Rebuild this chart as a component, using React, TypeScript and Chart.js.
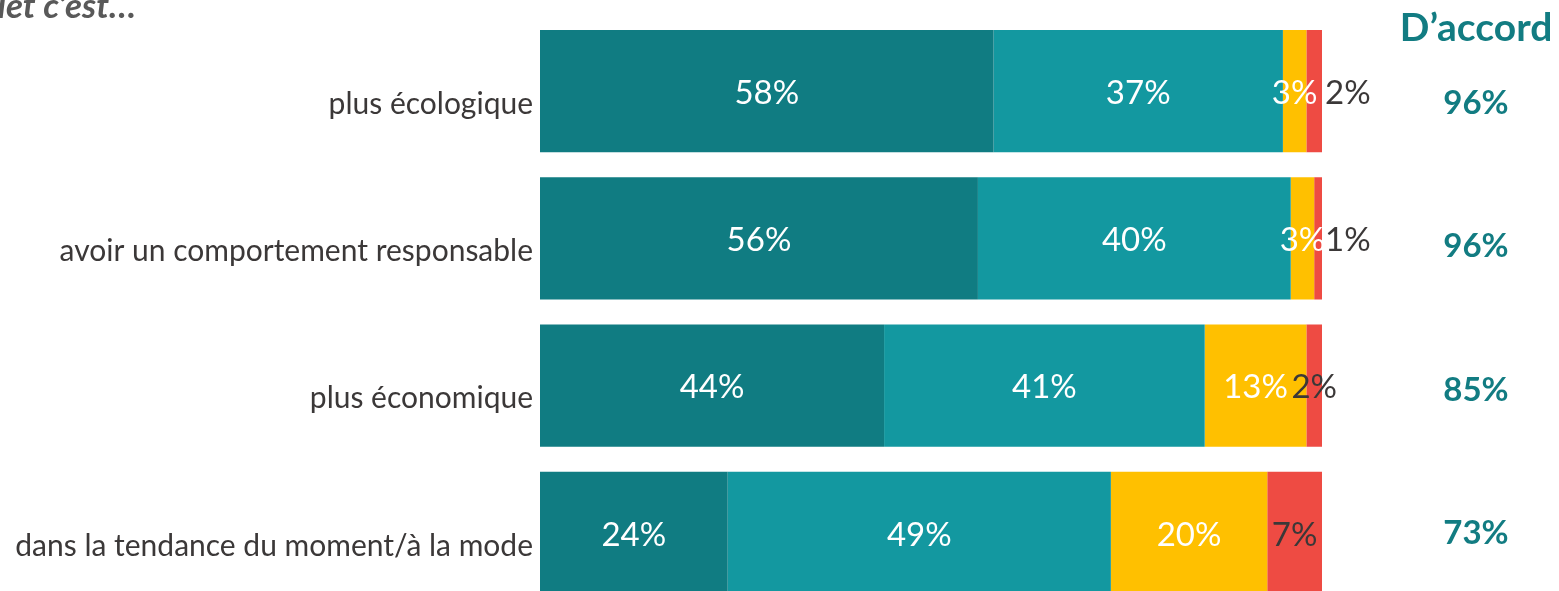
import React, { useEffect, useRef } from "react";
import { Chart, registerables } from "chart.js";

Chart.register(...registerables);

const categories = [
  "plus écologique",
  "avoir un comportement responsable",
  "plus économique",
  "dans la tendance du moment/à la mode",
];
const toutAFait = [58, 56, 44, 24];
const plutot = [37, 40, 41, 49];
const plutotPas = [3, 3, 13, 20];
const pasDuTout = [2, 1, 2, 7];
const accordTotals = ["96%", "96%", "85%", "73%"];
const accordHeader = "D’accord";
const titleText = "uet c’est…";

const seriesColors = ["#107C82", "#1398A0", "#FFC000", "#EE4B43"];
const labelColors = ["#FFFFFF", "#FFFFFF", "#FFFFFF", "#3B3838"];
const TEAL = "#127C82";
const TEXT = "#3B3838";
const FONT = "Lato, 'Open Sans', sans-serif";

const overlayPlugin = {
  id: "overlay",
  afterDatasetsDraw(chart: any) {
    const ctx = chart.ctx;
    const area = chart.chartArea;
    ctx.save();
    ctx.textBaseline = "middle";
    ctx.font = `33px ${FONT}`;
    const n = chart.data.datasets.length;
    const count = chart.data.labels.length;
    for (let j = 0; j < count; j++) {
      let prevRight = -Infinity;
      for (let i = 0; i < n; i++) {
        const meta = chart.getDatasetMeta(i);
        const el: any = meta.data[j];
        const v = chart.data.datasets[i].data[j];
        const txt = `${v}%`;
        const w = ctx.measureText(txt).width;
        let cx = (el.x + el.base) / 2;
        if (i === n - 1 && cx - w / 2 < prevRight - 2) {
          cx = Math.max(el.x, el.base) + 3 + w / 2;
        }
        ctx.fillStyle = labelColors[i];
        ctx.textAlign = "center";
        ctx.fillText(txt, cx, el.y + 2);
        prevRight = cx + w / 2;
      }
    }
    // right column
    const colX = area.right + 154;
    ctx.fillStyle = TEAL;
    ctx.textAlign = "center";
    ctx.font = `bold 39px ${FONT}`;
    ctx.textBaseline = "alphabetic";
    ctx.fillText(accordHeader, colX, 41);
    ctx.font = `bold 33px ${FONT}`;
    ctx.textBaseline = "middle";
    for (let j = 0; j < count; j++) {
      const el: any = chart.getDatasetMeta(0).data[j];
      ctx.fillText(accordTotals[j], colX, el.y + 12 - 3.7 * j);
    }
    // cut-off title
    ctx.fillStyle = "#595959";
    ctx.font = `italic bold 35px ${FONT}`;
    ctx.textAlign = "right";
    ctx.textBaseline = "alphabetic";
    ctx.fillText(titleText, 136, 18);
    ctx.restore();
  },
};

export default function App() {
  const ref = useRef<HTMLCanvasElement | null>(null);
  useEffect(() => {
    if (!ref.current) return;
    const datasets = [toutAFait, plutot, plutotPas, pasDuTout].map((d, i) => ({
      label: `s${i}`,
      data: d,
      backgroundColor: seriesColors[i],
      borderWidth: 0,
      barPercentage: 0.83,
      categoryPercentage: 1,
    }));
    const chart = new Chart(ref.current, {
      type: "bar",
      data: { labels: categories, datasets },
      options: {
        indexAxis: "y",
        responsive: false,
        animation: false,
        layout: { padding: { top: 17.4, right: 237, bottom: 13.4, left: 0 } },
        plugins: { legend: { display: false }, tooltip: { enabled: false } },
        scales: {
          x: { stacked: true, display: false, min: 0, max: 100 },
          y: {
            stacked: true,
            grid: { display: false, drawTicks: false },
            border: { display: false },
            afterFit: (s: any) => {
              s.width = 540;
              s.paddingTop = 0;
              s.paddingBottom = 0;
            },
            ticks: {
              color: TEXT,
              font: { family: FONT, size: 30 },
              padding: 7,
              labelOffset: 13,
            },
          },
        },
      },
      plugins: [overlayPlugin],
    });
    return () => chart.destroy();
  }, []);
  return (
    <div
      style={{
        position: "fixed",
        top: 0,
        left: 0,
        width: 1559,
        height: 591,
        overflow: "hidden",
        background: "#fff",
      }}
    >
      <canvas ref={ref} width={1559} height={620} style={{ width: 1559, height: 620 }} />
    </div>
  );
}
